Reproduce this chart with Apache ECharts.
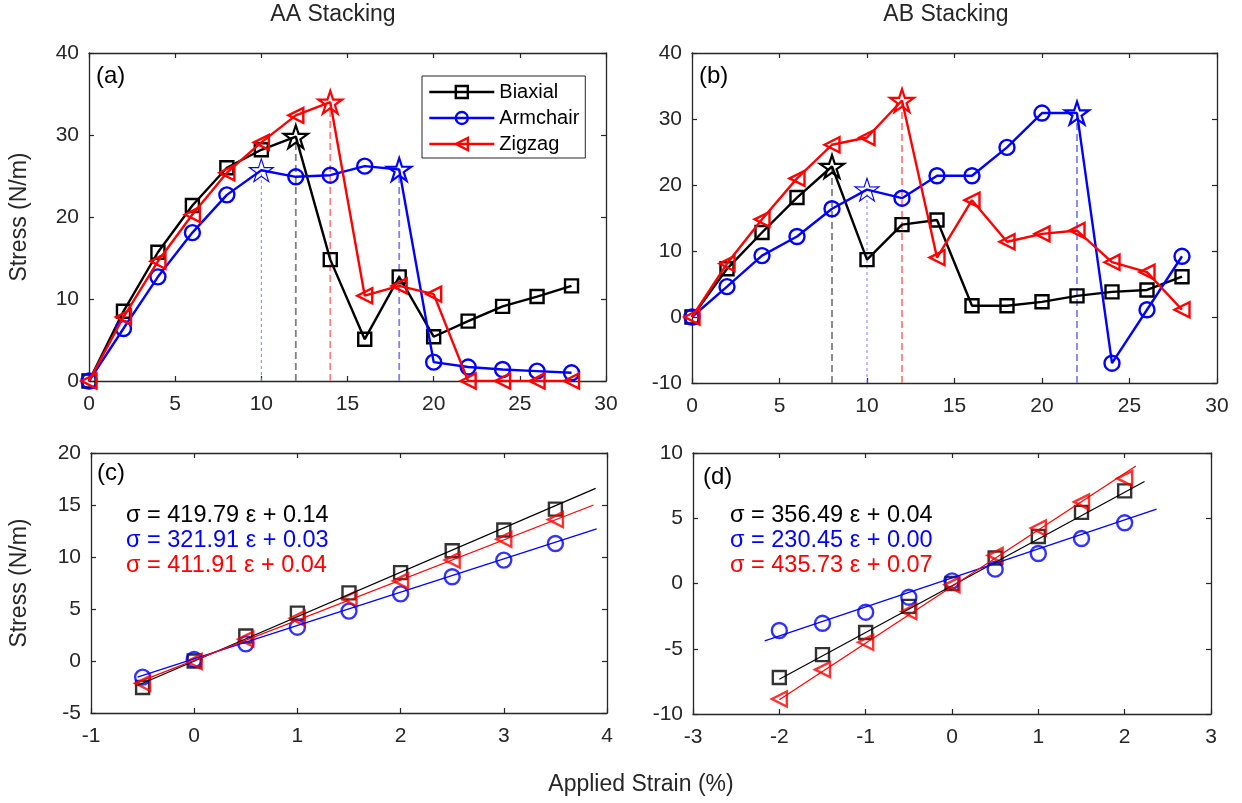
<!DOCTYPE html>
<html>
<head>
<meta charset="utf-8">
<script src="https://cdn.jsdelivr.net/npm/echarts@6/dist/echarts.min.js"></script>
<style>
html,body{margin:0;padding:0;background:#fff;}
#chart{width:1242px;height:803px;}
</style>
</head>
<body>
<div id="chart"></div>
<script>
// ---------------- DATA ----------------
const strain = [0, 2, 4, 6, 8, 10, 12, 14, 16, 18, 20, 22, 24, 26, 28];

const aaBiaxial  = [0, 8.5, 15.7, 21.4, 26.0, 28.2, 29.8, 14.8, 5.1, 12.7, 5.4, 7.3, 9.1, 10.3, 11.6];
const aaArmchair = [0, 6.4, 12.7, 18.1, 22.7, 25.7, 24.9, 25.1, 26.2, 25.8, 2.3, 1.7, 1.4, 1.2, 1.0];
const aaZigzag   = [0, 7.8, 14.6, 20.3, 25.4, 29.1, 32.4, 34.0, 10.4, 11.6, 10.6, 0, 0, 0, 0];
const aaPeaksBiaxial = [6];
const aaPeaksArmchair = [5, 9];
const aaPeaksZigzag = [7];

const abBiaxial  = [0, 7.3, 12.8, 18.1, 22.8, 8.7, 14.0, 14.7, 1.7, 1.7, 2.3, 3.2, 3.8, 4.1, 6.1];
const abArmchair = [0, 4.6, 9.3, 12.2, 16.4, 19.3, 18.0, 21.4, 21.4, 25.7, 30.9, 30.9, -7.0, 1.1, 9.2];
const abZigzag   = [0, 8.1, 14.8, 21.0, 26.1, 27.2, 32.8, 9.0, 17.7, 11.4, 12.6, 13.1, 8.3, 6.8, 1.1];
const abPeaksBiaxial = [4];
const abPeaksArmchair = [5, 11];
const abPeaksZigzag = [6];

const strainC = [-0.5, 0, 0.5, 1, 1.5, 2, 2.5, 3, 3.5];
const cBiaxial  = [-2.55, 0, 2.4, 4.6, 6.55, 8.5, 10.6, 12.6, 14.6];
const cArmchair = [-1.55, 0.15, 1.65, 3.25, 4.8, 6.45, 8.1, 9.7, 11.3];
const cZigzag   = [-2.15, -0.05, 2.1, 4.1, 6.0, 7.7, 9.7, 11.7, 13.6];
const cFitBiaxialX = [-0.55, 3.89],  cFitBiaxialY = [-2.35, 16.6];
const cFitArmchairX = [-0.55, 3.90], cFitArmchairY = [-1.55, 12.7];
const cFitZigzagX = [-0.58, 3.87],   cFitZigzagY = [-2.17, 15.0];

const strainD = [-2, -1.5, -1, -0.5, 0, 0.5, 1, 1.5, 2];
const dBiaxial  = [-7.2, -5.45, -3.75, -1.75, 0, 1.95, 3.6, 5.45, 7.1];
const dArmchair = [-3.6, -3.05, -2.2, -1.05, 0.2, 1.1, 2.3, 3.45, 4.65];
const dZigzag   = [-8.85, -6.6, -4.5, -2.15, -0.1, 2.15, 4.25, 6.25, 8.05];
const dFitBiaxialX = [-2.0, 2.23],  dFitBiaxialY = [-7.33, 7.82];
const dFitArmchairX = [-2.17, 2.37], dFitArmchairY = [-4.4, 5.7];
const dFitZigzagX = [-2.0, 2.13],   dFitZigzagY = [-8.9, 9.0];

const seriesNames = ['Biaxial', 'Armchair', 'Zigzag'];
const eqC = ['σ = 419.79 ε + 0.14', 'σ = 321.91 ε + 0.03', 'σ = 411.91 ε + 0.04'];
const eqD = ['σ = 356.49 ε + 0.04', 'σ = 230.45 ε + 0.00', 'σ = 435.73 ε + 0.07'];
const panelLabels = ['(a)', '(b)', '(c)', '(d)'];
const titles = ['AA Stacking', 'AB Stacking'];
const yName = 'Stress (N/m)';
const xName = 'Applied Strain (%)';

// ---------------- STYLE ----------------
const FONT = '"Liberation Sans", Arial, Helvetica, sans-serif';
const AX = '#262626';
const COLORS = ['#000000', '#0000ff', '#ff0000'];
const LIGHT = ['#808080', '#8080ff', '#ff8080'];
const TRI = 'path://M0,50 L100,0 L100,100 Z';
function starPath() {
  const pts = [];
  for (let k = 0; k < 10; k++) {
    const r = k % 2 === 0 ? 50 : 19;
    const a = -Math.PI / 2 + k * Math.PI / 5;
    pts.push((50 + r * Math.cos(a)).toFixed(2) + ',' + (50 + r * Math.sin(a)).toFixed(2));
  }
  return 'path://M' + pts.join(' L') + ' Z';
}
const STAR = starPath();
const SYMBOLS = ['rect', 'circle', TRI];
const SIZES = [13, 15, 15];
const CLEAR = 'rgba(255,255,255,0)';

const grids = [
  {left: 89, top: 53, width: 517, height: 328},
  {left: 692, top: 53, width: 525, height: 330},
  {left: 91, top: 453, width: 516, height: 260},
  {left: 693, top: 453, width: 518, height: 261}
];
const xRanges = [[0, 30, 5], [0, 30, 5], [-1, 4, 1], [-3, 3, 1]];
const yRanges = [[0, 40, 10], [-10, 40, 10], [-5, 20, 5], [-10, 10, 5]];

const xAxes = [], yAxes = [];
grids.forEach((g, i) => {
  const axLine = {show: true, onZero: false, lineStyle: {color: AX, width: 1.3}};
  const tick = {show: true, inside: true, length: 5, lineStyle: {color: AX, width: 1.2}};
  const lbl = {show: true, fontSize: 21, color: AX, fontFamily: FONT};
  xAxes.push({gridIndex: i, type: 'value', position: 'bottom', min: xRanges[i][0], max: xRanges[i][1], interval: xRanges[i][2],
    axisLine: axLine, axisTick: tick, axisLabel: Object.assign({margin: 13}, lbl), splitLine: {show: false}});
  xAxes.push({gridIndex: i, type: 'value', position: 'top', min: xRanges[i][0], max: xRanges[i][1], interval: xRanges[i][2],
    axisLine: axLine, axisTick: tick, axisLabel: {show: false}, splitLine: {show: false}});
  yAxes.push({gridIndex: i, type: 'value', position: 'left', min: yRanges[i][0], max: yRanges[i][1], interval: yRanges[i][2],
    axisLine: axLine, axisTick: tick, axisLabel: Object.assign({margin: 10}, lbl), splitLine: {show: false}});
  yAxes.push({gridIndex: i, type: 'value', position: 'right', min: yRanges[i][0], max: yRanges[i][1], interval: yRanges[i][2],
    axisLine: axLine, axisTick: tick, axisLabel: {show: false}, splitLine: {show: false}});
});

const series = [];

function addTopPanel(gi, sets, peakSets) {
  sets.forEach((vals, si) => {
    peakSets[si].forEach((pi, k) => {
      const thin = (si === 1 && k === 0);
      series.push({
        name: 'guide' + gi + '_' + si + '_' + k, type: 'line', xAxisIndex: gi * 2, yAxisIndex: gi * 2,
        data: [[strain[pi], yRanges[gi][0]], [strain[pi], vals[pi]]],
        symbol: 'none', silent: true, z: 1,
        lineStyle: {color: LIGHT[si], width: thin ? 1 : 1.8, type: thin ? [3, 3] : [7, 4]}
      });
    });
  });
  sets.forEach((vals, si) => {
    const data = strain.map((x, i) => {
      const k = peakSets[si].indexOf(i);
      if (k >= 0) {
        const thin = (si === 1 && k === 0);
        return {value: [x, vals[i]], symbol: STAR, symbolSize: 24, symbolKeepAspect: true,
          itemStyle: {color: CLEAR, borderColor: COLORS[si], borderWidth: thin ? 1.1 : 2.2}};
      }
      return [x, vals[i]];
    });
    series.push({
      name: seriesNames[si], type: 'line', xAxisIndex: gi * 2, yAxisIndex: gi * 2,
      data: data, symbol: SYMBOLS[si], symbolSize: SIZES[si], showAllSymbol: true,
      lineStyle: {color: COLORS[si], width: 2.4},
      itemStyle: {color: CLEAR, borderColor: COLORS[si], borderWidth: 2.4},
      z: 3 + si
    });
  });
}
addTopPanel(0, [aaBiaxial, aaArmchair, aaZigzag], [aaPeaksBiaxial, aaPeaksArmchair, aaPeaksZigzag]);
addTopPanel(1, [abBiaxial, abArmchair, abZigzag], [abPeaksBiaxial, abPeaksArmchair, abPeaksZigzag]);

function addBottomPanel(gi, xs, sets, fits) {
  sets.forEach((vals, si) => {
    series.push({
      name: 'pts' + gi + '_' + si, type: 'scatter', xAxisIndex: gi * 2, yAxisIndex: gi * 2,
      data: xs.map((x, i) => [x, vals[i]]), symbol: SYMBOLS[si], symbolSize: SIZES[si],
      itemStyle: {color: CLEAR, borderColor: COLORS[si], borderWidth: 2.4}, z: 3 + si
    });
  });
  fits.forEach((f, si) => {
    series.push({
      name: 'fit' + gi + '_' + si, type: 'line', xAxisIndex: gi * 2, yAxisIndex: gi * 2,
      data: f[0].map((x, i) => [x, f[1][i]]), symbol: 'none', silent: true,
      lineStyle: {color: COLORS[si], width: 1.2}, z: 6
    });
  });
}
addBottomPanel(2, strainC, [cBiaxial, cArmchair, cZigzag],
  [[cFitBiaxialX, cFitBiaxialY], [cFitArmchairX, cFitArmchairY], [cFitZigzagX, cFitZigzagY]]);
addBottomPanel(3, strainD, [dBiaxial, dArmchair, dZigzag],
  [[dFitBiaxialX, dFitBiaxialY], [dFitArmchairX, dFitArmchairY], [dFitZigzagX, dFitZigzagY]]);

// ---------------- TEXT ----------------
const graphics = [];
function txt(x, y, s, opt) {
  graphics.push({type: 'text', x: x, y: y, z: 50,
    style: Object.assign({text: s, fontFamily: FONT, fontSize: 23, fill: AX, textAlign: 'center', textVerticalAlign: 'middle'}, opt || {})});
}
txt(333, 15, titles[0]);
txt(946, 15, titles[1]);
graphics.push({type: 'text', x: 20, y: 217, rotation: Math.PI / 2, z: 50,
  style: {text: yName, fontFamily: FONT, fontSize: 23, fill: AX, textAlign: 'center', textVerticalAlign: 'middle'}});
graphics.push({type: 'text', x: 20, y: 583, rotation: Math.PI / 2, z: 50,
  style: {text: yName, fontFamily: FONT, fontSize: 23, fill: AX, textAlign: 'center', textVerticalAlign: 'middle'}});
txt(641, 785, xName);
const lblPos = [[96, 76], [699, 76], [97, 473], [703, 477]];
panelLabels.forEach((s, i) => {
  graphics.push({type: 'text', x: lblPos[i][0], y: lblPos[i][1], z: 50,
    style: {text: s, fontFamily: FONT, fontSize: 24, fill: '#000', textAlign: 'left', textVerticalAlign: 'middle'}});
});
const eqY = [516, 541, 566];
eqC.forEach((s, i) => {
  graphics.push({type: 'text', x: 126, y: eqY[i], z: 50,
    style: {text: s, fontFamily: FONT, fontSize: 23.5, fill: COLORS[i], textAlign: 'left', textVerticalAlign: 'middle'}});
});
eqD.forEach((s, i) => {
  graphics.push({type: 'text', x: 730, y: eqY[i], z: 50,
    style: {text: s, fontFamily: FONT, fontSize: 23.5, fill: COLORS[i], textAlign: 'left', textVerticalAlign: 'middle'}});
});

const chart = echarts.init(document.getElementById('chart'));
chart.setOption({
  animation: false,
  backgroundColor: '#fff',
  grid: grids,
  xAxis: xAxes,
  yAxis: yAxes,
  legend: {
    data: seriesNames, orient: 'vertical', left: 422, top: 76,
    padding: [6, 6, 4, 6], itemGap: 6, itemWidth: 65, itemHeight: 15,
    borderColor: AX, borderWidth: 1, backgroundColor: '#fff',
    lineStyle: {width: 2.6},
    itemStyle: {borderWidth: 2.4},
    textStyle: {fontFamily: FONT, fontSize: 20, color: '#000'},
    selectedMode: false, z: 20
  },
  series: series,
  graphic: graphics
});
</script>
</body>
</html>
